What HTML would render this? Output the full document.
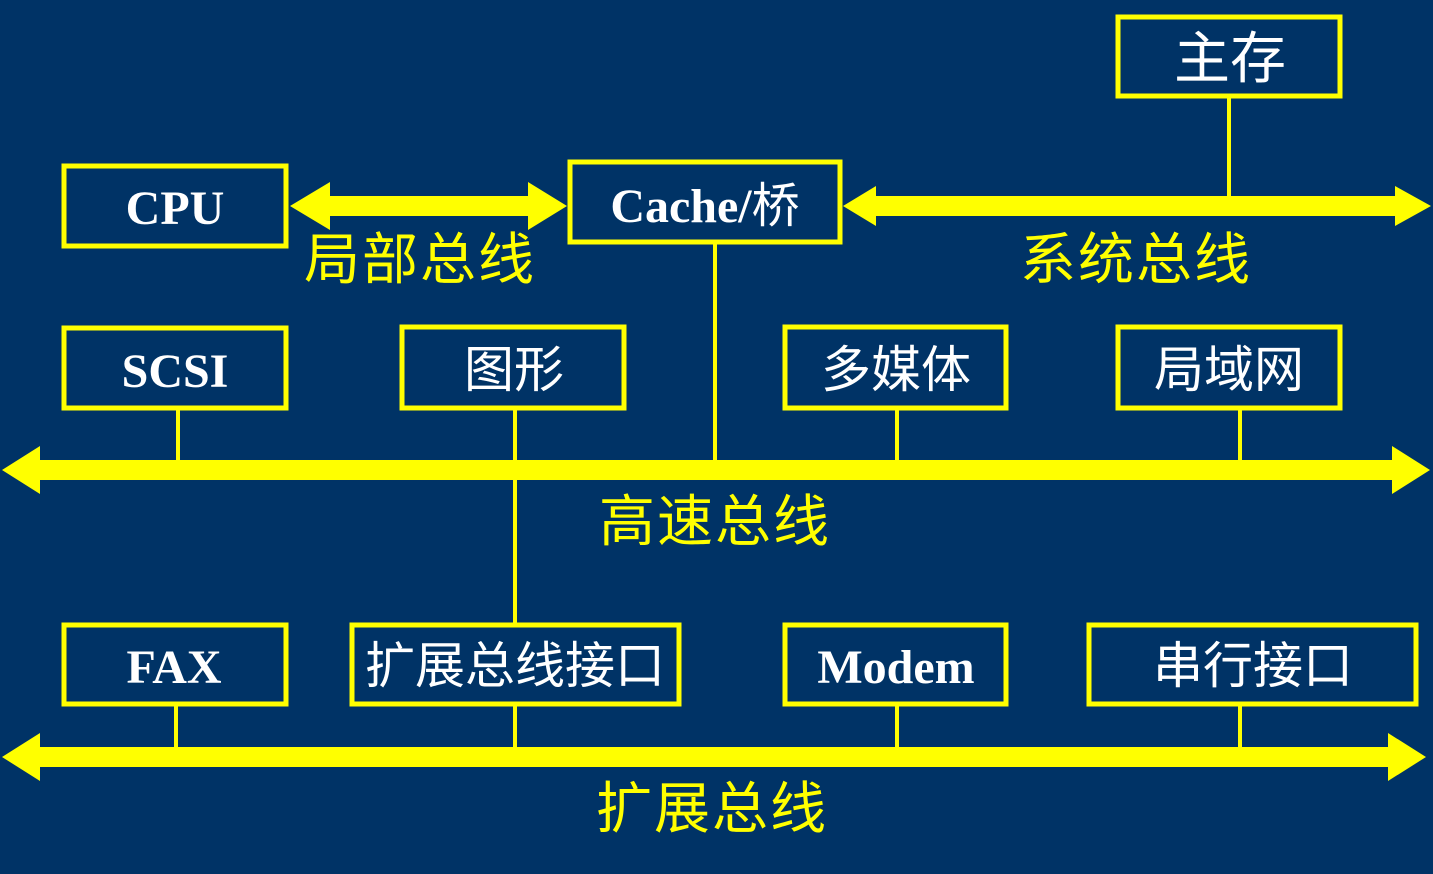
<!DOCTYPE html>
<html><head><meta charset="utf-8"><style>
html,body{margin:0;padding:0;background:#003366;}
svg{display:block}
.b{fill:none;stroke:#ffff00;stroke-width:5}
.l{stroke:#ffff00;stroke-width:4}
.bus{fill:#ffff00}
.en{font-family:"Liberation Serif",serif;font-weight:bold;font-size:48px;fill:#fff;text-anchor:middle}
.cn{font-family:"Liberation Sans","Noto Sans CJK SC",sans-serif;font-size:50px;fill:#fff;text-anchor:middle}
.lab{font-family:"Liberation Sans","Noto Sans CJK SC",sans-serif;font-size:56px;fill:#ffff00;text-anchor:middle;letter-spacing:2px}
</style></head><body>
<svg width="1433" height="874" viewBox="0 0 1433 874">
<rect width="1433" height="874" fill="#003366"/>
<line class="l" x1="1229" y1="96" x2="1229" y2="200"/>
<line class="l" x1="715" y1="242" x2="715" y2="464"/>
<line class="l" x1="178" y1="408" x2="178" y2="464"/>
<line class="l" x1="515" y1="408" x2="515" y2="626"/>
<line class="l" x1="897" y1="408" x2="897" y2="464"/>
<line class="l" x1="1240" y1="408" x2="1240" y2="464"/>
<line class="l" x1="176" y1="704" x2="176" y2="750"/>
<line class="l" x1="515" y1="704" x2="515" y2="750"/>
<line class="l" x1="897" y1="704" x2="897" y2="750"/>
<line class="l" x1="1240" y1="704" x2="1240" y2="750"/>
<polygon class="bus" points="290,206 330,182 330,196 528,196 528,182 567,206 528,230 528,216 330,216 330,230"/>
<polygon class="bus" points="843,206 876,186 876,196 1395,196 1395,186 1431,206 1395,226 1395,216 876,216 876,226"/>
<polygon class="bus" points="2,470 40,446 40,460 1392,460 1392,446 1430,470 1392,494 1392,480 40,480 40,494"/>
<polygon class="bus" points="2,757 40,733 40,747 1388,747 1388,733 1426,757 1388,781 1388,767 40,767 40,781"/>
<rect class="b" x="1118" y="17" width="222" height="79"/>
<text class="cn" x="1230" y="78" style="font-size:56px">主存</text>
<rect class="b" x="64" y="166" width="222" height="80"/>
<text class="en" x="175" y="224">CPU</text>
<rect class="b" x="570" y="162" width="270" height="80"/>
<text class="en" x="705" y="222">Cache/<tspan font-family="Noto Sans CJK SC" font-weight="normal">桥</tspan></text>
<rect class="b" x="64" y="328" width="222" height="80"/>
<text class="en" x="175" y="387">SCSI</text>
<rect class="b" x="402" y="327" width="222" height="81"/>
<text class="cn" x="514" y="387">图形</text>
<rect class="b" x="785" y="327" width="221" height="81"/>
<text class="cn" x="896" y="387">多媒体</text>
<rect class="b" x="1118" y="327" width="222" height="81"/>
<text class="cn" x="1229" y="387">局域网</text>
<rect class="b" x="64" y="625" width="222" height="79"/>
<text class="en" x="174" y="683">FAX</text>
<rect class="b" x="352" y="625" width="327" height="79"/>
<text class="cn" x="515" y="683">扩展总线接口</text>
<rect class="b" x="785" y="625" width="221" height="79"/>
<text class="en" x="896" y="683">Modem</text>
<rect class="b" x="1089" y="625" width="327" height="79"/>
<text class="cn" x="1253" y="683">串行接口</text>
<text class="lab" x="420" y="279">局部总线</text>
<text class="lab" x="1136" y="279">系统总线</text>
<text class="lab" x="715" y="541">高速总线</text>
<text class="lab" x="712" y="828">扩展总线</text>
</svg>
</body></html>
